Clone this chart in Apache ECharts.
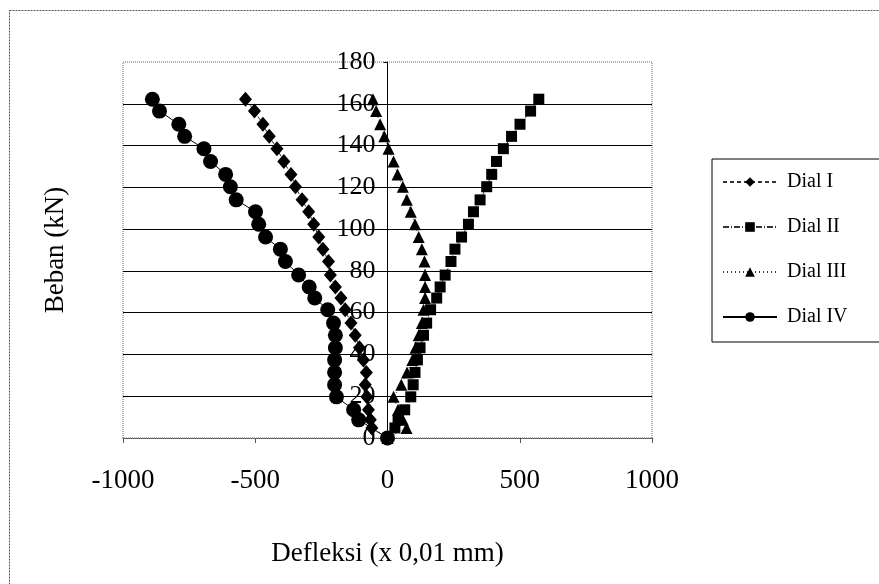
<!DOCTYPE html>
<html>
<head>
<meta charset="utf-8">
<script src="https://cdn.jsdelivr.net/npm/echarts@6/dist/echarts.min.js"></script>
<style>
html,body{margin:0;padding:0;background:#fff;}
#chart{width:879px;height:584px;}
</style>
</head>
<body>
<div id="chart"></div>
<script>
// Load levels (kN)
const loads = [0, 4.8, 8.7, 13.5, 19.7, 25.5, 31.4, 37.4, 43.2, 49.2, 55, 61.4, 67, 72.3, 78, 84.5, 90.4, 96.2, 102.3, 108.3, 114, 120.3, 126.2, 132.4, 138.5, 144.4, 150.2, 156.5, 162.2];
// Deflections (x 0,01 mm)
const dialI   = [0, -59, -65, -72, -78, -84, -80, -91, -106, -122, -138, -160, -176, -197, -216, -223, -244, -260, -279, -298, -323, -348, -365, -392, -418, -447, -471, -503, -537];
const dialII  = [0, 28, 40, 65, 88, 97, 104, 113, 123, 136, 148, 163, 186, 199, 218, 240, 255, 280, 306, 325, 350, 375, 394, 412, 438, 469, 501, 541, 572];
const dialIII = [0, 72, 58, 40, 23, 52, 74, 94, 106, 118, 130, 136, 142, 142, 142, 140, 130, 118, 104, 88, 73, 58, 38, 23, 4, -12, -28, -43, -55];
const dialIV  = [0, null, -109, -128, -193, -200, -200, -200, -197, -197, -204, -226, -275, -296, -336, -386, -405, -461, -487, -499, -572, -594, -612, -669, -694, -767, -789, -862, -889];
const xTicks = [-1000, 1000, 500];
const yTicks = [0, 180, 20];
const seriesNames = ['Dial I', 'Dial II', 'Dial III', 'Dial IV'];

const font = 'Liberation Serif, Times New Roman, serif';
function pairs(arr){ return loads.map((l,i)=>[arr[i], l]); }

const gridLeft = 123, gridRight = 227;
const chart = echarts.init(document.getElementById('chart'));
// y axis sits at x = 0: shift it from the grid's left edge to the zero position
const plotW = 879 - gridLeft - gridRight;
const zeroShift = plotW * (0 - xTicks[0]) / (xTicks[1] - xTicks[0]);

chart.setOption({
  animation: false,
  backgroundColor: '#fff',
  graphic: [{
    type: 'rect', left: 7, top: 8, shape: {width: 890, height: 600},
    style: {fill: 'none', stroke: '#555', lineWidth: 1, lineDash: [2, 1]}, silent: true
  }],
  grid: {
    left: gridLeft, right: gridRight, top: 62, bottom: 146,
    containLabel: false, outerBoundsMode: 'none',
    show: true, borderColor: '#666', borderWidth: 1, borderType: 'dotted', backgroundColor: 'transparent'
  },
  legend: {
    orient: 'vertical', left: 712, top: 159,
    data: seriesNames,
    itemWidth: 54, itemHeight: 12, itemGap: 23,
    padding: [12, 38, 14, 10],
    borderColor: '#000', borderWidth: 1,
    textStyle: {fontFamily: font, fontSize: 20, color: '#000', lineHeight: 22, padding: [0,0,0,5]}
  },
  xAxis: {
    type: 'value', min: xTicks[0], max: xTicks[1], interval: xTicks[2],
    name: 'Defleksi (x 0,01 mm)', nameLocation: 'middle', nameGap: 102,
    nameTextStyle: {fontFamily: font, fontSize: 27, color: '#000'},
    axisLine: {show: true, onZero: true, lineStyle: {color: '#555', type: 'dotted', width: 1}},
    axisTick: {show: true, length: 5, lineStyle: {color: '#555'}},
    axisLabel: {fontFamily: font, fontSize: 27, color: '#000', margin: 29, formatter: v => String(v)},
    splitLine: {show: false}
  },
  yAxis: {
    type: 'value', min: yTicks[0], max: yTicks[1], interval: yTicks[2],
    offset: -zeroShift,
    name: 'Beban (kN)', nameLocation: 'middle', nameGap: 318, nameRotate: 90,
    nameTextStyle: {fontFamily: font, fontSize: 27, color: '#000'},
    axisLine: {show: true, onZero: false, lineStyle: {color: '#000', width: 1}},
    axisTick: {show: true, length: 4, lineStyle: {color: '#000'}},
    axisLabel: {fontFamily: font, fontSize: 26, color: '#000', margin: 12, formatter: v => String(v)},
    splitLine: {show: true, showMinLine: false, showMaxLine: false, lineStyle: {color: '#000', width: 1}}
  },
  series: [
    {name: 'Dial I', type: 'line', data: pairs(dialI), symbol: 'diamond', symbolSize: [13, 15],
     itemStyle: {color: '#000'}, lineStyle: {color: '#333', width: 1, type: [4, 3]}, z: 3},
    {name: 'Dial II', type: 'line', data: pairs(dialII), symbol: 'rect', symbolSize: 11,
     itemStyle: {color: '#000'}, lineStyle: {color: '#333', width: 1, type: [6, 2, 1, 2]}, z: 3},
    {name: 'Dial III', type: 'line', data: pairs(dialIII), symbol: 'triangle', symbolSize: 12,
     itemStyle: {color: '#000'}, lineStyle: {color: '#333', width: 1, type: [1, 3]}, z: 3},
    {name: 'Dial IV', type: 'line', data: pairs(dialIV), symbol: 'circle', symbolSize: 15, connectNulls: true,
     itemStyle: {color: '#000'}, lineStyle: {color: '#000', width: 1}, z: 4}
  ]
});
</script>
</body>
</html>
